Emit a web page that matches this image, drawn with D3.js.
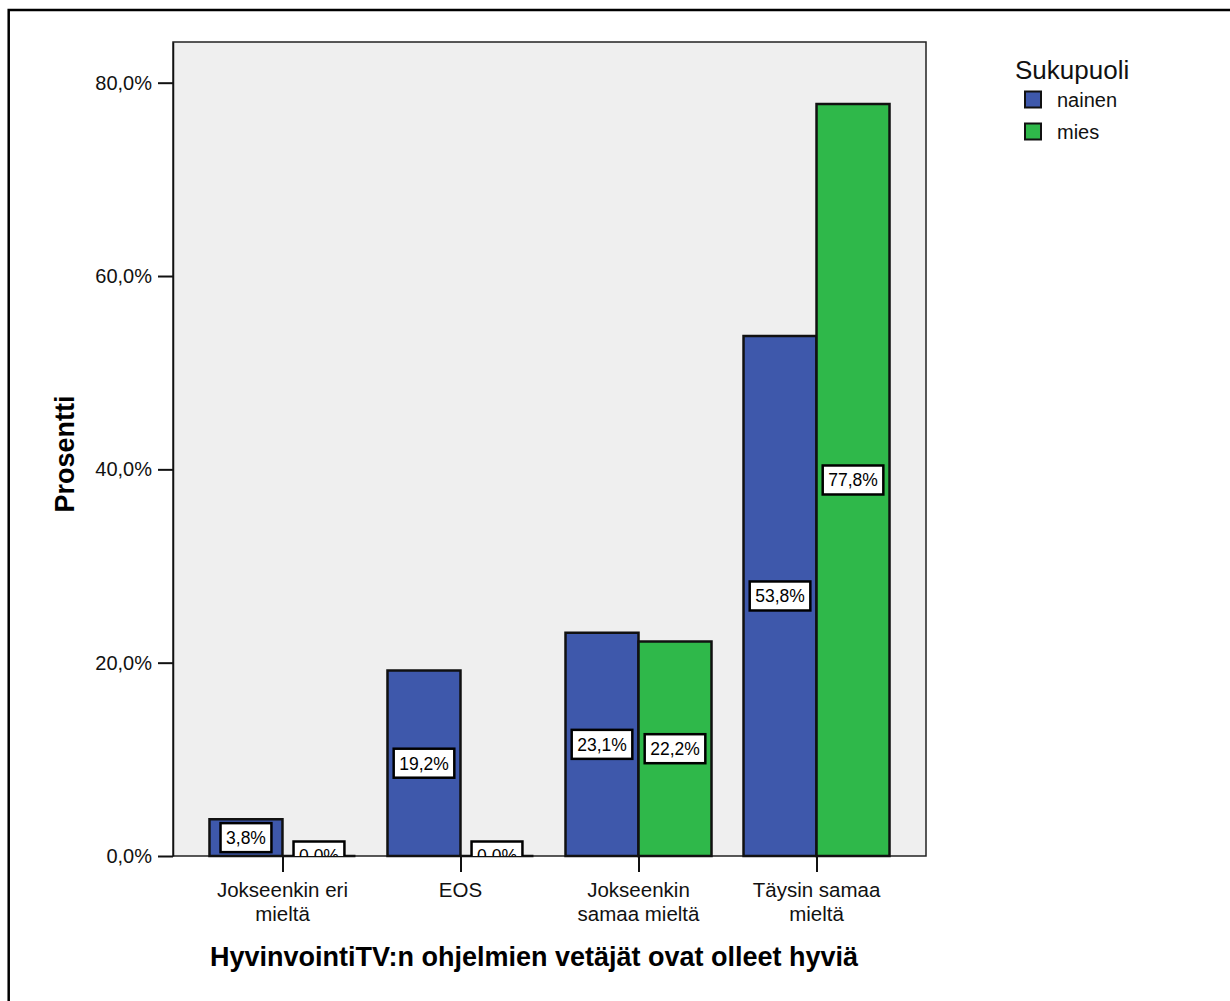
<!DOCTYPE html>
<html>
<head>
<meta charset="utf-8">
<script src="https://cdn.jsdelivr.net/npm/d3@7"></script>
<style>
  html, body { margin: 0; padding: 0; background: #fff; }
  svg { display: block; font-family: "Liberation Sans", Arial, Helvetica, sans-serif; }
</style>
</head>
<body>
<svg id="chart" width="1230" height="1001"></svg>
<script>
// Response categories (line breaks mark the wrapped axis labels)
const categories = ["Jokseenkin eri\nmieltä", "EOS", "Jokseenkin\nsamaa mieltä", "Täysin samaa\nmieltä"];
// Gender groups
const groups = ["nainen", "mies"];
// Percent of respondents per category
const nainenValues = [3.8, 19.2, 23.1, 53.8];
const miesValues = [0.0, 0.0, 22.2, 77.8];
// Y axis ticks
const yTicks = [0, 20, 40, 60, 80];
const groupColors = ["#3e58ab", "#2fb84a"];

const fmt = v => v.toFixed(1).replace(".", ",") + "%";

const svg = d3.select("#chart");

// Outer frame
svg.append("rect")
  .attr("x", 8.7).attr("y", 10).attr("width", 1260).attr("height", 1040)
  .attr("fill", "none").attr("stroke", "#000").attr("stroke-width", 2.5);

const plot = { left: 173, right: 926, top: 42, bottom: 856 };

const x = d3.scalePoint()
  .domain(categories)
  .range([plot.left, plot.right])
  .padding(0.615);

const barW = 73;

const y = d3.scaleLinear()
  .domain([0, 84.21])
  .range([plot.bottom, plot.top]);

// Plot background
svg.append("rect")
  .attr("x", plot.left).attr("y", plot.top)
  .attr("width", plot.right - plot.left).attr("height", plot.bottom - plot.top)
  .attr("fill", "#efefef").attr("stroke", "#222").attr("stroke-width", 1.5);

svg.append("clipPath").attr("id", "plotClip")
  .append("rect")
  .attr("x", plot.left).attr("y", plot.top)
  .attr("width", plot.right - plot.left).attr("height", plot.bottom - plot.top);

// Bar records
const bars = [];
categories.forEach((c, i) => {
  bars.push({ cat: c, g: 0, v: nainenValues[i] });
  bars.push({ cat: c, g: 1, v: miesValues[i] });
});
const barX0 = d => d.g === 0 ? x(d.cat) - barW : x(d.cat);

// Bars drawn as closed paths so zero-height bars still show their outline
svg.append("g").selectAll("path")
  .data(bars)
  .join("path")
  .attr("d", d => {
    const x0 = barX0(d), x1 = x0 + barW, y0 = y(0), y1 = y(d.v);
    return `M${x0},${y0}V${y1}H${x1}V${y0}Z`;
  })
  .attr("fill", d => groupColors[d.g])
  .attr("stroke", "#111")
  .attr("stroke-width", 2.5)
  .attr("stroke-linejoin", "miter");

// Y axis
const yAxis = svg.append("g")
  .attr("transform", `translate(${plot.left},0)`)
  .call(d3.axisLeft(y).tickValues(yTicks).tickSize(15).tickSizeOuter(0).tickPadding(6).tickFormat(fmt));
yAxis.select(".domain").attr("stroke", "#111").attr("stroke-width", 1.5);
yAxis.selectAll(".tick line").attr("stroke", "#111").attr("stroke-width", 2);
yAxis.selectAll(".tick text")
  .attr("font-size", 20).attr("fill", "#111")
  .attr("font-family", "'Liberation Sans', Arial, sans-serif");

// X axis ticks
const xAxis = svg.append("g")
  .attr("transform", `translate(0,${plot.bottom})`)
  .call(d3.axisBottom(x).tickSize(16).tickSizeOuter(0).tickFormat(""));
xAxis.select(".domain").remove();
xAxis.selectAll(".tick line").attr("stroke", "#111").attr("stroke-width", 2);

// X category labels (wrapped)
svg.append("g").selectAll("text")
  .data(categories)
  .join("text")
  .attr("x", d => x(d))
  .attr("y", 897)
  .attr("text-anchor", "middle")
  .attr("font-size", 20.5)
  .attr("fill", "#111")
  .each(function (d) {
    const t = d3.select(this);
    d.split("\n").forEach((line, k) => {
      t.append("tspan").attr("x", x(d)).attr("dy", k === 0 ? 0 : 23.5).text(line);
    });
  });

// Value labels in white boxes, centred on each bar
const labelG = svg.append("g").attr("clip-path", "url(#plotClip)");
const lab = labelG.selectAll("g")
  .data(bars)
  .join("g")
  .attr("transform", d => `translate(${barX0(d) + barW / 2},${(y(0) + y(d.v)) / 2})`);
lab.append("rect").attr("class", "box");
lab.append("text")
  .attr("text-anchor", "middle")
  .attr("dy", "0.36em")
  .attr("font-size", 17.5)
  .attr("fill", "#000")
  .text(d => fmt(d.v));
lab.each(function () {
  const g = d3.select(this);
  const w = g.select("text").node().getComputedTextLength() + 11;
  g.select("rect")
    .attr("x", -w / 2).attr("y", -14.5)
    .attr("width", w).attr("height", 29)
    .attr("fill", "#fff").attr("stroke", "#000").attr("stroke-width", 2.5);
});

// Axis titles
svg.append("text")
  .attr("x", 534).attr("y", 966)
  .attr("text-anchor", "middle")
  .attr("font-size", 27).attr("font-weight", "bold").attr("fill", "#000")
  .text("HyvinvointiTV:n ohjelmien vetäjät ovat olleet hyviä");

svg.append("text")
  .attr("transform", "translate(74,454) rotate(-90)")
  .attr("text-anchor", "middle")
  .attr("font-size", 27).attr("font-weight", "bold").attr("fill", "#000")
  .text("Prosentti");

// Legend
const legend = svg.append("g");
legend.append("text")
  .attr("x", 1015).attr("y", 79)
  .attr("font-size", 26).attr("fill", "#111")
  .text("Sukupuoli");
const li = legend.selectAll("g.item")
  .data(groups)
  .join("g").attr("class", "item")
  .attr("transform", (d, i) => `translate(0,${i * 32})`);
li.append("rect")
  .attr("x", 1025).attr("y", 91.5).attr("width", 16).attr("height", 16)
  .attr("fill", (d, i) => groupColors[i])
  .attr("stroke", "#111").attr("stroke-width", 2);
li.append("text")
  .attr("x", 1057).attr("y", 106.5)
  .attr("font-size", 20).attr("fill", "#111")
  .text(d => d);
</script>
</body>
</html>
